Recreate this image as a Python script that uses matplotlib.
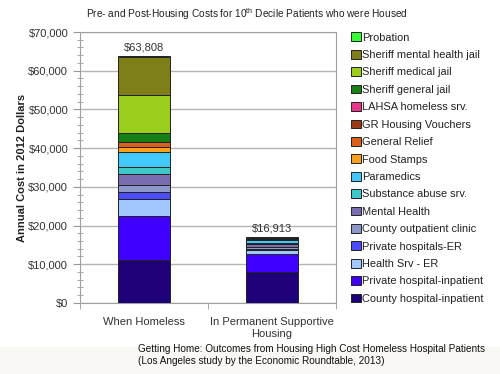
import numpy as np
import matplotlib
matplotlib.use("Agg")
import matplotlib.pyplot as plt
from matplotlib.ticker import MultipleLocator, FuncFormatter

plt.rcParams['font.family'] = ['Liberation Sans', 'DejaVu Sans']
plt.rcParams['mathtext.fontset'] = 'custom'
plt.rcParams['mathtext.rm'] = 'Liberation Sans'

categories = ['When Homeless', 'In Permanent Supportive\nHousing']

# stacking order, bottom -> top
series = ['County hospital-inpatient', 'Private hospital-inpatient', 'Health Srv - ER',
          'Private hospitals-ER', 'County outpatient clinic', 'Mental Health',
          'Substance abuse srv.', 'Paramedics', 'Food Stamps', 'General Relief',
          'GR Housing Vouchers', 'LAHSA homeless srv.', 'Sheriff general jail',
          'Sheriff medical jail', 'Sheriff mental health jail', 'Probation']

homeless = [11200, 11308, 4400, 1800, 1800, 2850, 1700, 4050, 1100, 1450,
            0, 0, 2150, 10000, 9800, 200]
housed = [8100, 4500, 1100, 300, 500, 650, 300, 700, 100, 150,
          200, 100, 100, 50, 50, 13]

colors = ['#1e0078', '#4000ff', '#a0c8ff', '#4c4cff', '#8c99c8', '#7a6cb0',
          '#40c8c8', '#40c8ff', '#ff9f1a', '#d9601a', '#9a3a14', '#e8358a',
          '#168016', '#9acd1c', '#7f7f1a', '#33ff33']

fig = plt.figure(figsize=(5, 3.74), dpi=100)
fig.patches.append(plt.Rectangle((0, 0), 1, 27/374, transform=fig.transFigure,
                                 facecolor='#faf8f5', edgecolor='none', zorder=0))
ax = fig.add_axes([0.16, 0.19, 0.512, 0.7244])

x = np.arange(len(categories))
vals = np.array([homeless, housed]).T
bottom = np.zeros(len(categories))
for name, v, c in zip(series, vals, colors):
    ax.bar(x, v, 0.4, bottom=bottom, color=c, edgecolor='#222222', linewidth=0.7,
           label=name, zorder=3)
    bottom += v

for xi, tot in zip(x, bottom):
    ax.text(xi, tot + 900, '${:,.0f}'.format(tot), ha='center', va='bottom',
            fontsize=8, color='#333333')

ax.set_xlim(-0.5, 1.5)
ax.set_ylim(0, 70000)
ax.yaxis.set_major_locator(MultipleLocator(10000))
ax.yaxis.set_minor_locator(MultipleLocator(2000))
ax.yaxis.set_major_formatter(FuncFormatter(lambda v, p: '${:,.0f}'.format(v)))
ax.grid(axis='y', color='#b4b4b4', linewidth=1, zorder=0)

ax.set_xticks([-0.5, 0.5, 1.5], minor=True)
ax.set_xticks(x)
ax.set_xticklabels(categories, fontsize=8, color='#333333', linespacing=1.3)
ax.tick_params(axis='x', which='major', length=0, pad=10)
ax.tick_params(axis='x', which='minor', length=4, color='#999999', direction='out')
ax.tick_params(axis='y', which='major', labelsize=8, labelcolor='#333333',
               length=5, color='#999999', direction='out')
ax.tick_params(axis='y', which='minor', length=5, color='#999999', direction='inout')
for s in ax.spines.values():
    s.set_color('#a0a0a0')

ax.set_ylabel('Annual Cost in 2012 Dollars', fontsize=8, fontweight='bold',
              color='#222222', labelpad=1)

fig.text(0.494, 0.962, r'Pre- and Post-Housing Costs for 10$^{\mathrm{th}}$ Decile Patients who were Housed',
         ha='center', va='center', fontsize=7.3, color='#222222')

h, l = ax.get_legend_handles_labels()
leg = fig.legend(h[::-1], l[::-1], loc='upper left', bbox_to_anchor=(0.694, 0.925),
                 frameon=False, fontsize=7.9, handlelength=0.85, handleheight=0.85,
                 handletextpad=0.12, labelspacing=0.66, borderaxespad=0)
for t in leg.get_texts():
    t.set_color('#222222')

fig.text(0.276, 0.05, 'Getting Home: Outcomes from Housing High Cost Homeless Hospital Patients\n(Los Angeles study by the Economic Roundtable, 2013)',
         ha='left', va='center', fontsize=7.2, color='#111111', linespacing=1.25)

fig.savefig('out.png', dpi=100)
